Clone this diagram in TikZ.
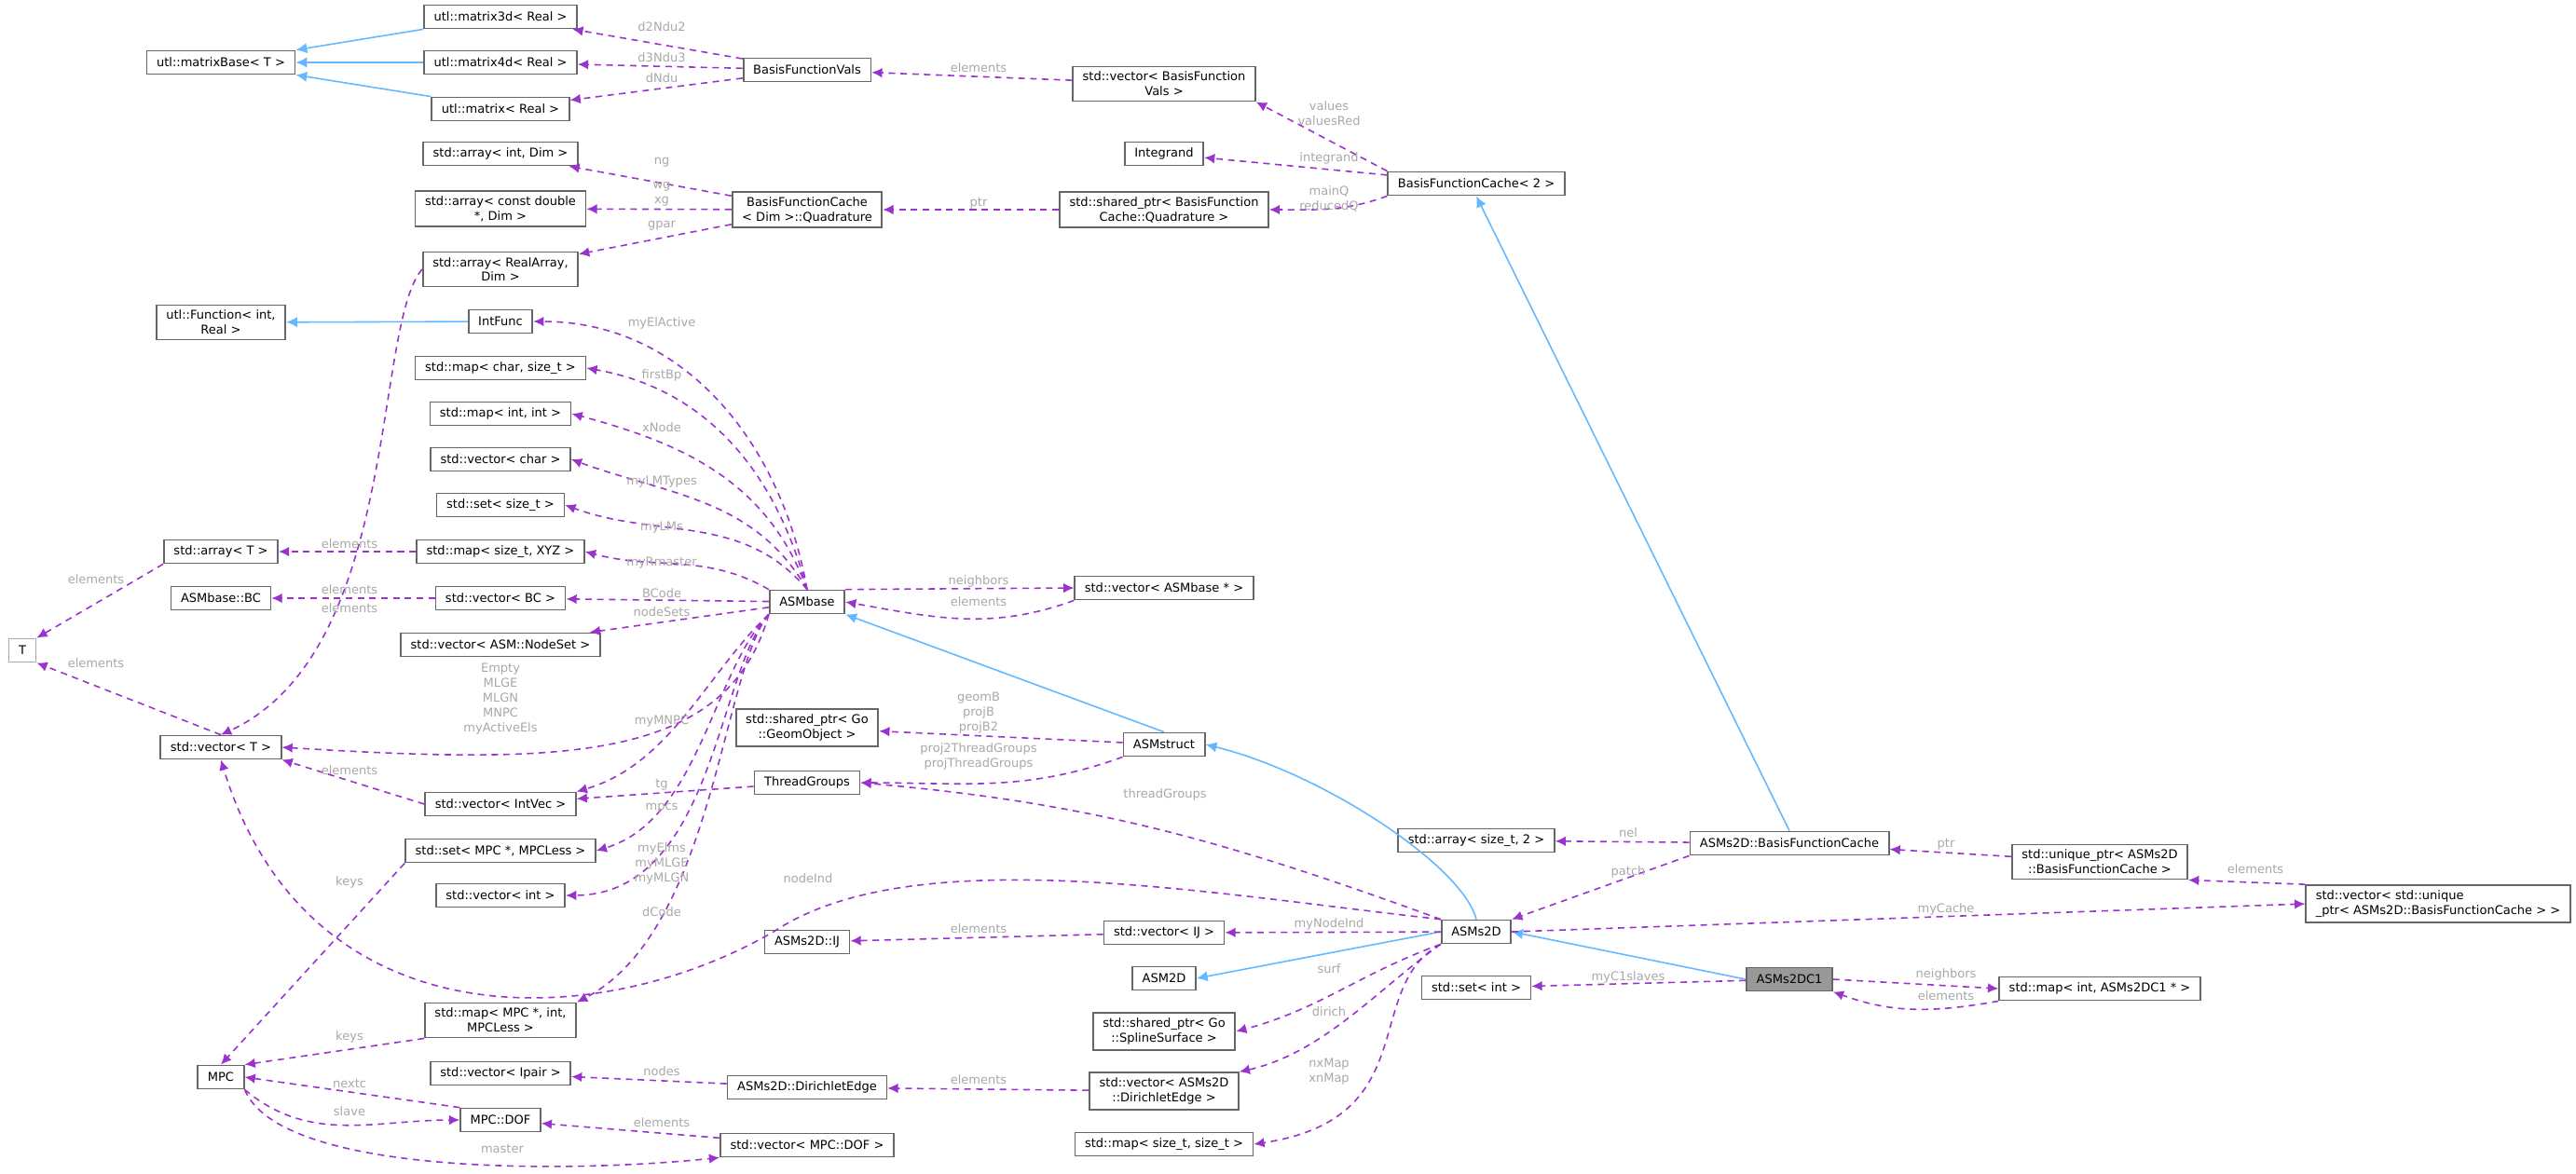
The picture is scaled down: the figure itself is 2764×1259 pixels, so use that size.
\documentclass[tikz,border=0pt]{standalone}
\usepackage{fontspec}
\setmainfont{DejaVu Sans}
\usetikzlibrary{arrows.meta}
\definecolor{depcol}{HTML}{9A32CD}
\definecolor{inhcol}{HTML}{63B8FF}
\definecolor{lblcol}{HTML}{A8A8A8}
\definecolor{boxcol}{HTML}{666666}
\tikzset{
	cls/.style={draw=boxcol, fill=white, line width=0.5pt, inner xsep=3pt, inner ysep=1.6pt, minimum height=0.25cm, align=center, font=\fontsize{3.7}{4.5}\selectfont},
	dep/.style={depcol, dashed, line width=0.45pt, dash pattern=on 2pt off 1.6pt, -{Latex[length=3.2pt,width=3pt]}},
	inh/.style={inhcol, line width=0.45pt, -{Latex[length=3.4pt,width=3.2pt]}},
	lbl/.style={lblcol, align=center, font=\fontsize{3.7}{4.5}\selectfont, inner sep=0.5pt},
}
\begin{document}
\begin{tikzpicture}[x=0.01cm, y=-0.01cm]
	\useasboundingbox (0,0) rectangle (2764,1259);
	% classes
	\node[cls] (mBase) at (237,67) {utl::matrixBase< T >};
	\node[cls] (m3d) at (537,18) {utl::matrix3d< Real >};
	\node[cls] (m4d) at (537,67) {utl::matrix4d< Real >};
	\node[cls] (mat) at (537,117) {utl::matrix< Real >};
	\node[cls] (bfv) at (866,75) {BasisFunctionVals};
	\node[cls] (vbfv) at (1249,90) {std::vector< BasisFunction\\Vals >};
	\node[cls] (integ) at (1249,165) {Integrand};
	\node[cls] (bfc2) at (1584,197) {BasisFunctionCache< 2 >};
	\node[cls] (aid) at (537,165) {std::array< int, Dim >};
	\node[cls] (acd) at (537,224) {std::array< const double\\*, Dim >};
	\node[cls] (quad) at (866,225) {BasisFunctionCache\\< Dim >::Quadrature};
	\node[cls] (squad) at (1249,225) {std::shared\_ptr< BasisFunction\\Cache::Quadrature >};
	\node[cls] (ara) at (537,289) {std::array< RealArray,\\Dim >};
	\node[cls] (func) at (237,346) {utl::Function< int,\\Real >};
	\node[cls] (ifunc) at (537,345) {IntFunc};
	\node[cls] (mchar) at (537,395) {std::map< char, size\_t >};
	\node[cls] (mii) at (537,444) {std::map< int, int >};
	\node[cls] (vchar) at (537,493) {std::vector< char >};
	\node[cls] (sst) at (537,542) {std::set< size\_t >};
	\node[cls] (mxyz) at (537,592) {std::map< size\_t, XYZ >};
	\node[cls] (arrT) at (237,592) {std::array< T >};
	\node[cls, draw=lblcol] (T) at (24,698) {T};
	\node[cls] (bc) at (237,642) {ASMbase::BC};
	\node[cls] (vbc) at (537,642) {std::vector< BC >};
	\node[cls] (base) at (866,646) {ASMbase};
	\node[cls] (vbase) at (1249,631) {std::vector< ASMbase * >};
	\node[cls] (vns) at (537,692) {std::vector< ASM::NodeSet >};
	\node[cls] (vT) at (237,802) {std::vector< T >};
	\node[cls] (geo) at (866,781) {std::shared\_ptr< Go\\::GeomObject >};
	\node[cls] (strct) at (1249,799) {ASMstruct};
	\node[cls] (tg) at (866,840) {ThreadGroups};
	\node[cls] (viv) at (537,863) {std::vector< IntVec >};
	\node[cls] (smpc) at (537,913) {std::set< MPC *, MPCLess >};
	\node[cls] (vint) at (537,961) {std::vector< int >};
	\node[cls] (as2) at (1584,902) {std::array< size\_t, 2 >};
	\node[cls] (s2bfc) at (1920,905) {ASMs2D::BasisFunctionCache};
	\node[cls] (uptr) at (2253,925) {std::unique\_ptr< ASMs2D\\::BasisFunctionCache >};
	\node[cls, align=left] (vuptr) at (2616,970) {std::vector< std::unique\\\_ptr< ASMs2D::BasisFunctionCache > >};
	\node[cls] (s2d) at (1584,1000) {ASMs2D};
	\node[cls] (ij) at (866,1011) {ASMs2D::IJ};
	\node[cls] (vij) at (1249,1001) {std::vector< IJ >};
	\node[cls] (asm2d) at (1249,1050) {ASM2D};
	\node[cls] (sint) at (1584,1060) {std::set< int >};
	\node[cls, fill=black!40] (c1) at (1920,1051) {ASMs2DC1};
	\node[cls] (mc1) at (2253,1061) {std::map< int, ASMs2DC1 * >};
	\node[cls] (mmpc) at (537,1095) {std::map< MPC *, int,\\MPCLess >};
	\node[cls] (ssurf) at (1249,1107) {std::shared\_ptr< Go\\::SplineSurface >};
	\node[cls] (mpc) at (237,1156) {MPC};
	\node[cls] (vip) at (537,1152) {std::vector< Ipair >};
	\node[cls] (dedge) at (866,1167) {ASMs2D::DirichletEdge};
	\node[cls] (vde) at (1249,1171) {std::vector< ASMs2D\\::DirichletEdge >};
	\node[cls] (dof) at (537,1202) {MPC::DOF};
	\node[cls] (vdof) at (866,1229) {std::vector< MPC::DOF >};
	\node[cls] (msz) at (1249,1228) {std::map< size\_t, size\_t >};
	% inheritance
	\draw[inh] (m3d.south west) -- (mBase.north east);
	\draw[inh] (m4d) -- (mBase);
	\draw[inh] (mat.north west) -- (mBase.south east);
	\draw[inh] (ifunc) -- (func);
	\draw[inh] (strct.north) -- (base.south east);
	\draw[inh] (s2d.north) .. controls (1570,930) and (1420,830) .. (strct.east);
	\draw[inh] (s2d.west) -- (asm2d.east);
	\draw[inh] (c1.west) -- (s2d.east);
	\draw[inh] (s2bfc.north) -- (bfc2.south);
	% members
	\draw[dep] (bfv) -- (m3d);
	\draw[dep] (bfv) -- (m4d);
	\draw[dep] (bfv) -- (mat);
	\draw[dep] (vbfv) -- (bfv);
	\draw[dep] (bfc2.north west) -- (vbfv.south east);
	\draw[dep] (bfc2) -- (integ);
	\draw[dep] (bfc2.south west) to[out=200,in=0] (squad.east);
	\draw[dep] (squad) -- (quad);
	\draw[dep] (quad) -- (aid);
	\draw[dep] (quad) -- (acd);
	\draw[dep] (quad) -- (ara);
	\draw[dep] (ara.west) .. controls (400,350) and (430,700) .. (vT.north);
	\draw[dep] (base.north) to[out=100,in=0] (ifunc.east);
	\draw[dep] (base.north) to[out=105,in=-10] (mchar.east);
	\draw[dep] (base.north) to[out=110,in=-15] (mii.east);
	\draw[dep] (base.north) to[out=120,in=-20] (vchar.east);
	\draw[dep] (base.north) to[out=130,in=-20] (sst.east);
	\draw[dep] (base.north west) to[out=150,in=-15] (mxyz.east);
	\draw[dep] (base) -- (vbc);
	\draw[dep] (base) -- (vns);
	\draw[dep] (base.south west) .. controls (780,820) and (600,820) .. (vT.east);
	\draw[dep] (base.south west) .. controls (760,720) and (720,820) .. (viv.north east);
	\draw[dep] (base.south west) .. controls (765,720) and (750,880) .. (smpc.east);
	\draw[dep] (base.south west) .. controls (770,720) and (765,960) .. (vint.east);
	\draw[dep] (base.south west) .. controls (775,720) and (765,1000) .. (mmpc.north east);
	\draw[dep] (base.north east) -- (vbase.west);
	\draw[dep] (vbase.south west) to[out=200,in=-10] (base.east);
	\draw[dep] (mxyz) -- (arrT);
	\draw[dep] (arrT.south west) -- (T.north east);
	\draw[dep] (vT.north) -- (T.south east);
	\draw[dep] (vbc) -- (bc);
	\draw[dep] (viv.west) -- (vT.south east);
	\draw[dep] (tg) -- (viv);
	\draw[dep] (strct) -- (geo);
	\draw[dep] (strct.south west) to[out=200,in=0] (tg.east);
	\draw[dep] (s2d.north west) to[out=160,in=-5] (tg.east);
	\draw[dep] (s2d.north west) .. controls (1300,960) and (980,900) .. (830,1000) .. controls (640,1110) and (330,1120) .. (vT.south);
	\draw[dep] (s2d) -- (vij);
	\draw[dep] (vij) -- (ij);
	\draw[dep] (s2d.south west) to[out=200,in=15] (ssurf.east);
	\draw[dep] (s2d.south west) .. controls (1480,1060) and (1420,1130) .. (vde.north east);
	\draw[dep] (s2d.south west) .. controls (1460,1060) and (1530,1200) .. (msz.east);
	\draw[dep] (s2d.east) -- (vuptr.west);
	\draw[dep] (s2bfc.south west) -- (s2d.north east);
	\draw[dep] (s2bfc) -- (as2);
	\draw[dep] (uptr) -- (s2bfc);
	\draw[dep] (vuptr.north west) -- (uptr.south east);
	\draw[dep] (c1) -- (sint);
	\draw[dep] (c1.east) -- (mc1.west);
	\draw[dep] (mc1.south west) to[out=190,in=-20] (c1.south east);
	\draw[dep] (smpc.south west) -- (mpc.north);
	\draw[dep] (mmpc.south west) -- (mpc.north east);
	\draw[dep] (vde) -- (dedge);
	\draw[dep] (dedge) -- (vip);
	\draw[dep] (dof.north west) -- (mpc.east);
	\draw[dep] (mpc.south east) to[out=-40,in=180] (dof.west);
	\draw[dep] (vdof) -- (dof);
	\draw[dep] (mpc.south east) .. controls (300,1260) and (600,1260) .. (vdof.south west);
	% labels
	\foreach \p/\t [count=\i] in {
		{(710,29)}/d2Ndu2, {(710,62)}/d3Ndu3, {(710,84)}/dNdu, {(1050,73)}/elements,
		{(1426,122)}/{values\\valuesRed}, {(1426,170)}/integrand, {(1426,213)}/{mainQ\\reducedQ},
		{(1050,218)}/ptr, {(710,174)}/ng, {(710,208)}/{wg\\xg}, {(710,242)}/gpar,
		{(710,347)}/myElActive, {(710,403)}/firstBp, {(710,459)}/xNode, {(710,517)}/myLMTypes,
		{(710,566)}/myLMs, {(710,604)}/myRmaster, {(375,584)}/elements, {(1050,624)}/neighbors,
		{(710,637)}/BCode, {(1050,646)}/elements, {(710,657)}/nodeSets, {(375,633)}/elements,
		{(375,653)}/elements, {(103,622)}/elements, {(103,712)}/elements,
		{(537,750)}/{Empty\\MLGE\\MLGN\\MNPC\\myActiveEls}, {(710,774)}/myMNPC,
		{(1050,765)}/{geomB\\projB\\projB2}, {(1050,812)}/{proj2ThreadGroups\\projThreadGroups},
		{(375,827)}/elements, {(710,842)}/tg, {(1250,853)}/threadGroups, {(710,867)}/mpcs,
		{(710,927)}/{myElms\\myMLGE\\myMLGN}, {(375,947)}/keys, {(867,943)}/nodeInd, {(710,979)}/dCode,
		{(1050,997)}/elements, {(375,1113)}/keys, {(710,1150)}/nodes, {(1050,1159)}/elements,
		{(375,1163)}/nextc, {(375,1193)}/slave, {(710,1205)}/elements, {(539,1233)}/master,
		{(1747,894)}/nel, {(2088,906)}/ptr, {(1747,936)}/patch, {(2420,933)}/elements,
		{(2088,976)}/myCache, {(1426,992)}/myNodeInd, {(1426,1040)}/surf, {(1747,1049)}/myC1slaves,
		{(2088,1046)}/neighbors, {(2088,1069)}/elements, {(1426,1086)}/dirich, {(1426,1150)}/{nxMap\\xnMap}}
		\node[lbl] (l\i) at \p {\t};
\end{tikzpicture}
\end{document}
